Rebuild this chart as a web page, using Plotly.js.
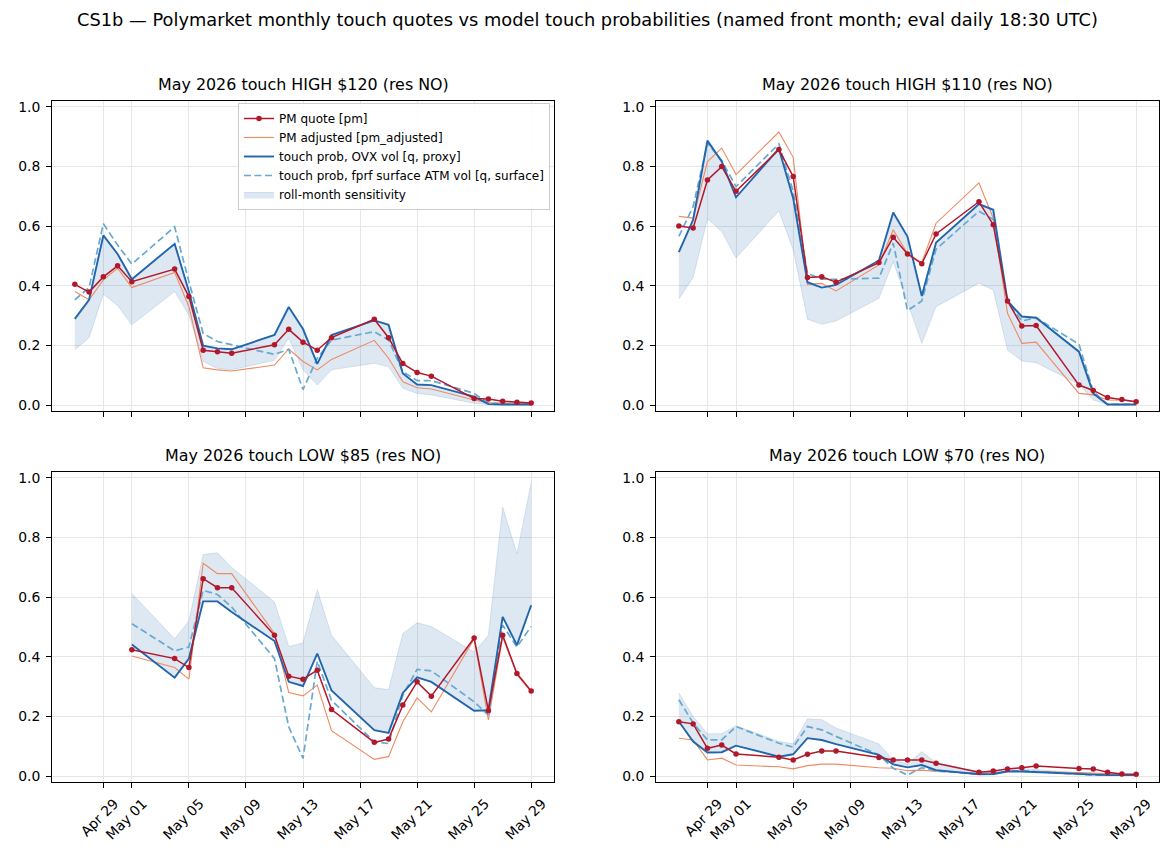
<!DOCTYPE html>
<html>
<head>
<meta charset="utf-8">
<script src="https://cdn.plot.ly/plotly-3.0.1.min.js"></script>
<style>html,body{margin:0;padding:0;background:#fff;}#chart{width:1175px;height:860px;}</style>
</head>
<body>
<div id="chart"></div>
<script>
// ---------- data ----------
const dates = ['2026-04-27','2026-04-28','2026-04-29','2026-04-30','2026-05-01',
  '2026-05-04','2026-05-05','2026-05-06','2026-05-07','2026-05-08',
  '2026-05-11','2026-05-12','2026-05-13','2026-05-14','2026-05-15',
  '2026-05-18','2026-05-19','2026-05-20','2026-05-21','2026-05-22',
  '2026-05-25','2026-05-26','2026-05-27','2026-05-28','2026-05-29'];
const datesLow85 = dates.slice(4);

const tickDates = ['2026-04-29','2026-05-01','2026-05-05','2026-05-09','2026-05-13','2026-05-17','2026-05-21','2026-05-25','2026-05-29'];
const tickLabels = ['Apr 29','May 01','May 05','May 09','May 13','May 17','May 21','May 25','May 29'];
const yTicks = [0, 0.2, 0.4, 0.6, 0.8, 1.0];

const panelTitles = ['May 2026 touch HIGH $120 (res NO)','May 2026 touch HIGH $110 (res NO)',
                     'May 2026 touch LOW $85 (res NO)','May 2026 touch LOW $70 (res NO)'];
const seriesNames = ['PM quote [pm]','PM adjusted [pm_adjusted]','touch prob, OVX vol [q, proxy]',
                     'touch prob, fprf surface ATM vol [q, surface]','roll-month sensitivity'];

// HIGH $120
const h120_pm      = [0.405,0.379,0.430,0.467,0.414,0.456,0.364,0.184,0.179,0.174,0.202,0.254,0.211,0.184,0.226,0.288,0.226,0.139,0.109,0.097,0.022,0.020,0.013,0.009,0.007];
const h120_adj     = [0.381,0.353,0.420,0.459,0.394,0.445,0.330,0.125,0.118,0.114,0.134,0.188,0.146,0.118,0.153,0.217,0.157,0.078,0.058,0.054,0.017,0.008,0.007,0.006,0.006];
const h120_proxy   = [0.289,0.353,0.569,0.507,0.422,0.541,0.381,0.199,0.190,0.187,0.235,0.329,0.255,0.138,0.235,0.284,0.269,0.106,0.069,0.067,0.028,0.003,0.002,0.002,0.002];
const h120_surface = [0.353,0.394,0.608,0.537,0.473,0.598,0.414,0.240,0.213,0.202,0.170,0.187,0.052,0.157,0.218,0.246,0.218,0.112,0.082,0.082,0.039,0.006,0.003,0.003,0.003];
const h120_bandLo  = [0.185,0.226,0.372,0.334,0.269,0.381,0.302,0.146,0.123,0.118,0.150,0.224,0.118,0.067,0.118,0.140,0.129,0.056,0.039,0.034,0.006,0.002,0.001,0.001,0.001];
const h120_bandHi  = [0.289,0.353,0.569,0.507,0.422,0.541,0.381,0.199,0.190,0.187,0.235,0.329,0.255,0.138,0.235,0.284,0.269,0.106,0.069,0.067,0.028,0.003,0.002,0.002,0.002];

// HIGH $110
const h110_pm      = [0.601,0.594,0.755,0.800,0.717,0.857,0.767,0.428,0.430,0.412,0.478,0.563,0.507,0.474,0.574,0.682,0.605,0.349,0.265,0.267,0.067,0.049,0.025,0.019,0.011];
const h110_adj     = [0.633,0.627,0.817,0.862,0.773,0.916,0.831,0.405,0.408,0.383,0.470,0.588,0.508,0.478,0.610,0.745,0.627,0.308,0.207,0.211,0.039,0.034,0.017,0.016,0.011];
const h110_proxy   = [0.513,0.622,0.887,0.817,0.697,0.860,0.694,0.412,0.394,0.403,0.485,0.646,0.565,0.366,0.545,0.674,0.655,0.349,0.297,0.293,0.179,0.039,0.002,0.002,0.002];
const h110_surface = [0.566,0.666,0.879,0.820,0.733,0.876,0.717,0.442,0.422,0.422,0.426,0.543,0.317,0.349,0.523,0.650,0.622,0.347,0.282,0.293,0.204,0.045,0.002,0.002,0.002];
const h110_bandLo  = [0.356,0.428,0.625,0.582,0.493,0.652,0.521,0.288,0.271,0.282,0.358,0.481,0.345,0.207,0.330,0.409,0.386,0.185,0.148,0.142,0.070,0.017,0.002,0.001,0.001];
const h110_bandHi  = [0.513,0.622,0.887,0.817,0.697,0.860,0.694,0.412,0.394,0.403,0.485,0.646,0.565,0.366,0.545,0.674,0.655,0.349,0.297,0.293,0.179,0.039,0.002,0.002,0.002];

// LOW $85 (from May 01)
const l85_pm      = [0.424,0.394,0.364,0.662,0.632,0.632,0.472,0.335,0.325,0.355,0.223,0.113,0.124,0.238,0.316,0.268,0.463,0.219,0.472,0.344,0.285];
const l85_adj     = [0.403,0.364,0.325,0.714,0.679,0.679,0.478,0.280,0.269,0.305,0.152,0.056,0.065,0.182,0.262,0.215,0.461,0.188,0.467,0.340,0.282];
const l85_proxy   = [0.441,0.330,0.394,0.586,0.586,0.550,0.453,0.316,0.302,0.411,0.287,0.154,0.145,0.279,0.331,0.316,0.219,0.221,0.534,0.439,0.573];
const l85_surface = [0.511,0.420,0.433,0.623,0.609,0.567,0.394,0.165,0.059,0.385,0.254,0.115,0.109,0.271,0.358,0.353,0.249,0.204,0.506,0.433,0.502];
const l85_bandLo  = [0.441,0.330,0.394,0.586,0.586,0.550,0.453,0.316,0.302,0.411,0.287,0.154,0.145,0.279,0.331,0.316,0.219,0.215,0.534,0.439,0.573];
const l85_bandHi  = [0.612,0.461,0.520,0.743,0.749,0.700,0.584,0.435,0.446,0.625,0.472,0.296,0.290,0.478,0.514,0.502,0.416,0.472,0.902,0.746,0.983];

// LOW $70
const l70_pm      = [0.182,0.175,0.093,0.104,0.074,0.063,0.054,0.073,0.084,0.084,0.062,0.054,0.054,0.054,0.043,0.013,0.017,0.024,0.028,0.034,0.025,0.024,0.013,0.007,0.006];
const l70_adj     = [0.127,0.121,0.054,0.060,0.037,0.031,0.024,0.035,0.040,0.040,0.028,0.026,0.018,0.020,0.015,0.010,0.012,0.015,0.015,0.015,0.012,0.010,0.006,0.004,0.004];
const l70_proxy   = [0.183,0.116,0.079,0.080,0.102,0.065,0.073,0.127,0.121,0.107,0.071,0.039,0.029,0.037,0.020,0.006,0.007,0.015,0.015,0.013,0.006,0.003,0.003,0.003,0.003];
const l70_surface = [0.256,0.178,0.121,0.121,0.166,0.110,0.097,0.166,0.155,0.133,0.071,0.026,0.003,0.028,0.017,0.006,0.006,0.017,0.018,0.015,0.007,0.003,0.003,0.003,0.003];
const l70_bandLo  = [0.183,0.116,0.079,0.080,0.102,0.065,0.073,0.127,0.121,0.107,0.071,0.039,0.029,0.037,0.020,0.006,0.007,0.015,0.015,0.013,0.006,0.003,0.003,0.003,0.003];
const l70_bandHi  = [0.279,0.200,0.142,0.142,0.169,0.116,0.108,0.192,0.189,0.161,0.108,0.054,0.040,0.082,0.045,0.015,0.015,0.025,0.025,0.022,0.010,0.005,0.004,0.004,0.004];

// ---------- styling ----------
const C_PM = '#b2182b', C_ADJ = '#ef8a62', C_PROXY = '#2166ac', C_SURF = '#67a9cf';
const C_BAND = 'rgba(33,102,172,0.15)';
const FONT = 'DejaVu Sans, Liberation Sans, sans-serif';

const panels = [
  {x: dates, pm: h120_pm, adj: h120_adj, proxy: h120_proxy, surf: h120_surface, lo: h120_bandLo, hi: h120_bandHi},
  {x: dates, pm: h110_pm, adj: h110_adj, proxy: h110_proxy, surf: h110_surface, lo: h110_bandLo, hi: h110_bandHi},
  {x: datesLow85, pm: l85_pm, adj: l85_adj, proxy: l85_proxy, surf: l85_surface, lo: l85_bandLo, hi: l85_bandHi},
  {x: dates, pm: l70_pm, adj: l70_adj, proxy: l70_proxy, surf: l70_surface, lo: l70_bandLo, hi: l70_bandHi}
];

const traces = [];
panels.forEach((p, i) => {
  const xa = i === 0 ? 'x' : 'x' + (i + 1);
  const ya = i === 0 ? 'y' : 'y' + (i + 1);
  const leg = i === 0;
  traces.push({x: p.x, y: p.lo, xaxis: xa, yaxis: ya, mode: 'lines', type: 'scatter',
    line: {color: C_BAND, width: 1}, showlegend: false, hoverinfo: 'skip'});
  traces.push({x: p.x, y: p.hi, xaxis: xa, yaxis: ya, mode: 'lines', type: 'scatter', fill: 'tonexty',
    fillcolor: C_BAND, line: {color: C_BAND, width: 1}, name: seriesNames[4], showlegend: leg, legendrank: 5});
  traces.push({x: p.x, y: p.adj, xaxis: xa, yaxis: ya, mode: 'lines', type: 'scatter',
    line: {color: C_ADJ, width: 1.1}, name: seriesNames[1], showlegend: leg, legendrank: 2});
  traces.push({x: p.x, y: p.surf, xaxis: xa, yaxis: ya, mode: 'lines', type: 'scatter',
    line: {color: C_SURF, width: 1.7, dash: '7px,3.5px'}, name: seriesNames[3], showlegend: leg, legendrank: 4});
  traces.push({x: p.x, y: p.proxy, xaxis: xa, yaxis: ya, mode: 'lines', type: 'scatter',
    line: {color: C_PROXY, width: 1.9}, name: seriesNames[2], showlegend: leg, legendrank: 3});
  traces.push({x: p.x, y: p.pm, xaxis: xa, yaxis: ya, mode: 'lines+markers', type: 'scatter',
    line: {color: C_PM, width: 1.5}, marker: {color: C_PM, size: 5.5}, name: seriesNames[0], showlegend: leg, legendrank: 1});
});

// x range with 5% margins like matplotlib
const t0 = Date.parse(dates[0] + 'T00:00:00Z');
const t1 = Date.parse(dates[dates.length - 1] + 'T00:00:00Z');
const pad = (t1 - t0) * 0.05;
const fmt = ms => new Date(ms).toISOString().replace('T', ' ').replace('Z', '');
const xRange = [fmt(t0 - pad), fmt(t1 + pad)];

const W = 1175, H = 860;
const colX = [[52 / W, 554 / W], [656 / W, 1159 / W]];
const rowY = [[1 - 411 / H, 1 - 101 / H], [1 - 782 / H, 1 - 472 / H]];
const TICKFONT = {family: FONT, size: 13.9, color: '#000'};

function xAxis(col, row) {
  return {
    domain: colX[col], anchor: row === 0 ? (col === 0 ? 'y' : 'y2') : (col === 0 ? 'y3' : 'y4'),
    type: 'date', range: xRange, tickmode: 'array', tickvals: tickDates, ticktext: tickLabels,
    showticklabels: row === 1, tickangle: -45, ticklabelshift: 11, ticklabelstandoff: 2,
    ticks: 'outside', ticklen: 5, tickwidth: 1, tickcolor: '#000',
    showgrid: true, gridcolor: '#e6e6e6', gridwidth: 1,
    showline: true, linecolor: '#000', linewidth: 1, mirror: true, zeroline: false,
    tickfont: TICKFONT, automargin: false
  };
}
function yAxis(col, row) {
  return {
    domain: rowY[row], anchor: row === 0 ? (col === 0 ? 'x' : 'x2') : (col === 0 ? 'x3' : 'x4'),
    range: [-0.02, 1.02], tickmode: 'array', tickvals: yTicks, tickformat: '.1f',
    ticks: 'outside', ticklen: 5, tickwidth: 1, tickcolor: '#000', ticklabelstandoff: 3,
    showgrid: true, gridcolor: '#e6e6e6', gridwidth: 1,
    showline: true, linecolor: '#000', linewidth: 1, mirror: true, zeroline: false,
    tickfont: TICKFONT, automargin: false
  };
}

const annotations = panelTitles.map((t, i) => {
  const col = i % 2, row = Math.floor(i / 2);
  return {text: t, xref: 'paper', yref: 'paper', x: (colX[col][0] + colX[col][1]) / 2,
    y: rowY[row][1] + 16 / H, xanchor: 'center', yanchor: 'middle', showarrow: false,
    font: {family: FONT, size: 15.9, color: '#000'}};
});

const layout = {
  width: W, height: H, margin: {l: 0, r: 0, t: 0, b: 0},
  paper_bgcolor: '#fff', plot_bgcolor: '#fff',
  font: {family: FONT, color: '#000'},
  title: {text: 'CS1b — Polymarket monthly touch quotes vs model touch probabilities (named front month; eval daily 18:30 UTC)',
    x: 0.5, xanchor: 'center', y: 1 - 20 / H, yanchor: 'middle', font: {family: FONT, size: 17.8, color: '#000'}},
  xaxis: xAxis(0, 0), yaxis: yAxis(0, 0),
  xaxis2: xAxis(1, 0), yaxis2: yAxis(1, 0),
  xaxis3: xAxis(0, 1), yaxis3: yAxis(0, 1),
  xaxis4: xAxis(1, 1), yaxis4: yAxis(1, 1),
  showlegend: true,
  legend: {x: 238 / W, y: 1 - 103 / H, xanchor: 'left', yanchor: 'top',
    bgcolor: 'rgba(255,255,255,0.85)', bordercolor: '#cccccc', borderwidth: 1,
    font: {family: FONT, size: 12, color: '#000'}, tracegroupgap: 0, traceorder: 'normal'},
  annotations: annotations,
  hovermode: false
};

Plotly.newPlot('chart', traces, layout, {displayModeBar: false, staticPlot: true});
</script>
</body>
</html>
